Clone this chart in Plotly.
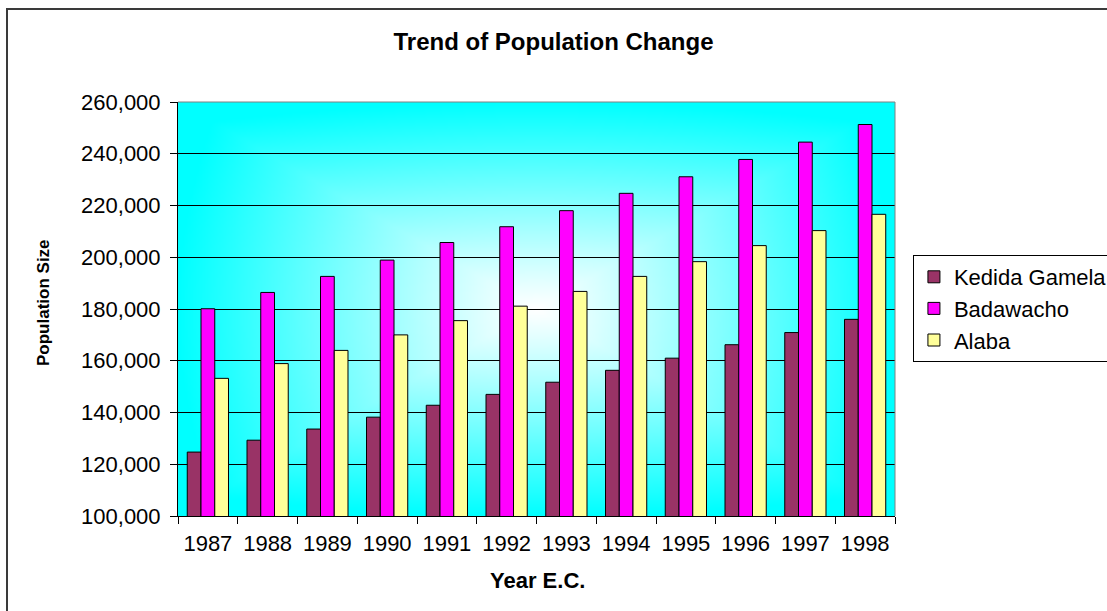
import base64
import struct
import zlib

import plotly.graph_objects as go

years = ["1987", "1988", "1989", "1990", "1991", "1992",
         "1993", "1994", "1995", "1996", "1997", "1998"]
kedida_gamela = [124700, 129300, 133600, 138200, 142800, 147000,
                 151700, 156300, 161000, 166200, 170900, 176000]
badawacho = [180100, 186400, 192600, 198900, 205700, 211800,
             218000, 224700, 231100, 237800, 244500, 251300]
alaba = [153200, 158900, 164000, 170000, 175500, 181100,
         186800, 192600, 198300, 204500, 210300, 216600]


def gradient_png(w=240, h=140):
    "cyan to white 'from centre' fill, as a png data uri"
    rows = b""
    for j in range(h):
        row = b"\x00"
        dy = abs((j + 0.5) / h - 0.5) * 2
        for i in range(w):
            dx = abs((i + 0.5) / w - 0.5) * 2
            t = min(1.0, max(dx, dy) * 0.75 + (dx * dx + dy * dy) ** 0.5 * 0.25)
            t = t ** 1.1
            r = int(round(255 * (1 - t)))
            row += bytes((r, 255, 255))
        rows += row

    def chunk(tag, data):
        c = struct.pack(">I", len(data)) + tag + data
        return c + struct.pack(">I", zlib.crc32(tag + data) & 0xffffffff)

    png = b"\x89PNG\r\n\x1a\n"
    png += chunk(b"IHDR", struct.pack(">IIBBBBB", w, h, 8, 2, 0, 0, 0))
    png += chunk(b"IDAT", zlib.compress(rows, 9))
    png += chunk(b"IEND", b"")
    return "data:image/png;base64," + base64.b64encode(png).decode()


font = "Liberation Sans, Arial, sans-serif"
line = dict(color="black", width=1)

fig = go.Figure()
fig.add_trace(go.Bar(x=years, y=kedida_gamela, name="Kedida Gamela",
                     marker=dict(color="#993366", line=line)))
fig.add_trace(go.Bar(x=years, y=badawacho, name="Badawacho",
                     marker=dict(color="#FF00FF", line=line)))
fig.add_trace(go.Bar(x=years, y=alaba, name="Alaba",
                     marker=dict(color="#FFFF99", line=line)))

fig.update_layout(
    width=1107, height=611,
    margin=dict(l=178, r=212, t=102, b=95, autoexpand=False),
    paper_bgcolor="white",
    plot_bgcolor="rgba(0,0,0,0)",
    font=dict(family=font, size=22, color="black"),
    barmode="group",
    bargap=0.31,
    bargroupgap=0,
    title=dict(text="<b>Trend of Population Change</b>", x=0.5, xanchor="center",
               y=1 - 42 / 611, yanchor="middle", font=dict(size=24)),
    legend=dict(x=1.025, y=(516 - 255) / 414, xanchor="left", yanchor="top",
                bgcolor="white", bordercolor="black", borderwidth=1,
                font=dict(size=22), tracegroupgap=0, itemwidth=30),
    images=[dict(source=gradient_png(), xref="paper", yref="paper", x=0, y=1,
                 sizex=1, sizey=1, xanchor="left", yanchor="top",
                 sizing="stretch", layer="below")],
    xaxis=dict(type="category", showline=True, linecolor="black", linewidth=1,
               ticks="outside", tickson="boundaries", ticklen=7, tickcolor="black",
               showgrid=False, tickfont=dict(size=22), ticklabelstandoff=8),
    yaxis=dict(range=[100000, 260000], dtick=20000, tickformat=",",
               showline=True, linecolor="black", linewidth=1,
               ticks="outside", ticklen=7, tickcolor="black",
               showgrid=True, gridcolor="black", gridwidth=1,
               tickfont=dict(size=22), zeroline=False, ticklabelstandoff=5),
    annotations=[
        dict(text="<b>Population Size</b>", textangle=-90, xref="paper", yref="paper",
             x=(43 - 178) / 717, y=(516 - 303) / 414, showarrow=False,
             xanchor="center", yanchor="middle", font=dict(size=17)),
        dict(text="<b>Year E.C.</b>", xref="paper", yref="paper",
             x=(537 - 178) / 717, y=(516 - 580) / 414, showarrow=False,
             xanchor="center", yanchor="middle", font=dict(size=22)),
    ],
    shapes=[
        # outer chart frame, right and bottom edges run off the page
        dict(type="rect", xref="paper", yref="paper",
             x0=(7 - 178) / 717, x1=(1130 - 178) / 717,
             y0=(516 - 630) / 414, y1=(516 - 9) / 414,
             line=dict(color="#3a3a3a", width=2)),
        # grey plot-area border on top and right
        dict(type="line", xref="paper", yref="paper", x0=0, x1=1, y0=1, y1=1,
             line=dict(color="#808080", width=1)),
        dict(type="line", xref="paper", yref="paper", x0=1, x1=1, y0=0, y1=1,
             line=dict(color="#808080", width=1)),
    ],
)

fig.write_html("out.html", config={"displayModeBar": False},
               post_script="document.body.style.margin = '0';")
